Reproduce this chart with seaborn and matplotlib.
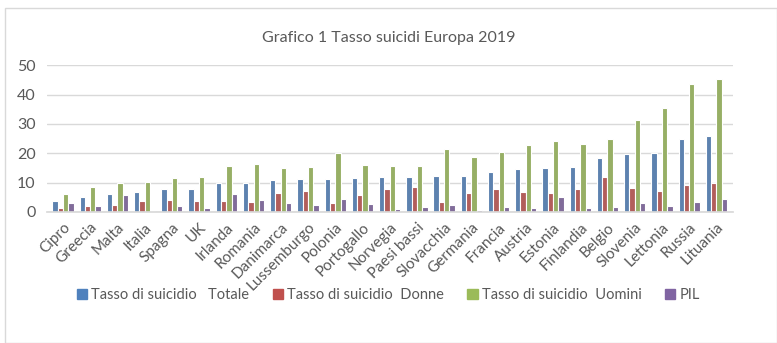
import pandas as pd
import seaborn as sns
import matplotlib.pyplot as plt
from matplotlib.patches import Rectangle

paesi = ["Cipro", "Greecia", "Malta", "Italia", "Spagna", "UK", "Irlanda", "Romania",
         "Danimarca", "Lussemburgo", "Polonia", "Portogallo", "Norvegia", "Paesi bassi",
         "Slovacchia", "Germania", "Francia", "Austria", "Estonia", "Finlandia", "Belgio",
         "Slovenia", "Lettonia", "Russia", "Lituania"]
totale = [3.6, 5.2, 6.1, 6.8, 7.7, 7.9, 9.8, 9.9, 10.8, 11.4, 11.4, 11.6, 11.9, 11.8,
          12.2, 12.3, 13.7, 14.7, 14.9, 15.3, 18.3, 19.8, 20.1, 25.0, 26.0]
donne = [1.4, 1.9, 2.4, 3.6, 4.1, 3.9, 3.9, 3.3, 6.5, 7.2, 3.2, 5.7, 7.7, 8.4,
         3.5, 6.3, 7.7, 6.7, 6.5, 7.7, 11.8, 8.3, 7.0, 9.2, 9.7]
uomini = [6.1, 8.5, 9.9, 10.2, 11.5, 12.0, 15.5, 16.4, 14.9, 15.3, 20.1, 16.0, 15.8, 15.6,
          21.3, 18.6, 20.3, 22.7, 24.2, 23.2, 24.9, 31.4, 35.3, 43.5, 45.2]
pil = [3.2, 1.9, 5.7, 0.2, 1.9, 1.4, 6.0, 4.1, 3.0, 2.4, 4.4, 2.6, 1.0, 1.8,
       2.4, 0.7, 1.6, 1.5, 5.0, 1.25, 1.8, 3.2, 2.0, 3.5, 4.4]
serie = ["Tasso di suicidio   Totale", "Tasso di suicidio  Donne",
         "Tasso di suicidio  Uomini", "PIL"]
colori = ["#4F81BD", "#C0504D", "#9BBB59", "#8064A2"]

df = pd.DataFrame({"Paese": paesi, serie[0]: totale, serie[1]: donne,
                   serie[2]: uomini, serie[3]: pil})
df = df.melt(id_vars="Paese", var_name="serie", value_name="valore")

sns.set_theme(style="white")
plt.rcParams["font.family"] = ["Lato", "DejaVu Sans"]

fig = plt.figure(figsize=(7.77, 3.43), dpi=100)
ax = fig.add_axes([0.060, 0.382, 0.883, 0.428])

sns.barplot(data=df, x="Paese", y="valore", hue="serie", palette=colori,
            width=0.78, edgecolor="white", linewidth=0.8, ax=ax)

ax.set_ylim(0, 50)
ax.set_yticks(range(0, 51, 10))
ax.set_xlim(-0.6, len(paesi) - 0.4)
ax.yaxis.grid(True, color="#d9d9d9", linewidth=1)
ax.set_axisbelow(True)
sns.despine(ax=ax, left=True, top=True, right=True)
ax.spines["bottom"].set_color("#d9d9d9")
ax.set_xlabel("")
ax.set_ylabel("")
ax.tick_params(axis="both", length=0, colors="#595959")
ax.tick_params(axis="y", pad=8, labelsize=11.5)
ax.tick_params(axis="x", pad=6, labelsize=11)
plt.setp(ax.get_xticklabels(), rotation=45, ha="right", rotation_mode="anchor")

ax.get_legend().remove()
handles = [Rectangle((0, 0), 1, 1, color=c) for c in colori]
fig.legend(handles, serie, loc="center", bbox_to_anchor=(0.5, 0.14), ncol=4,
           frameon=False, fontsize=10.5, handlelength=0.7, handleheight=0.7,
           handletextpad=0.3, columnspacing=1.6, labelcolor="#595959")

fig.text(0.5, 0.889, "Grafico 1 Tasso suicidi Europa 2019", ha="center", va="center",
         fontsize=11.5, color="#595959")
fig.patches.append(Rectangle((0.007, 0.0), 0.993, 0.976, transform=fig.transFigure,
                             fill=False, edgecolor="#d9d9d9", linewidth=1))

fig.savefig("out.png", dpi=100)
